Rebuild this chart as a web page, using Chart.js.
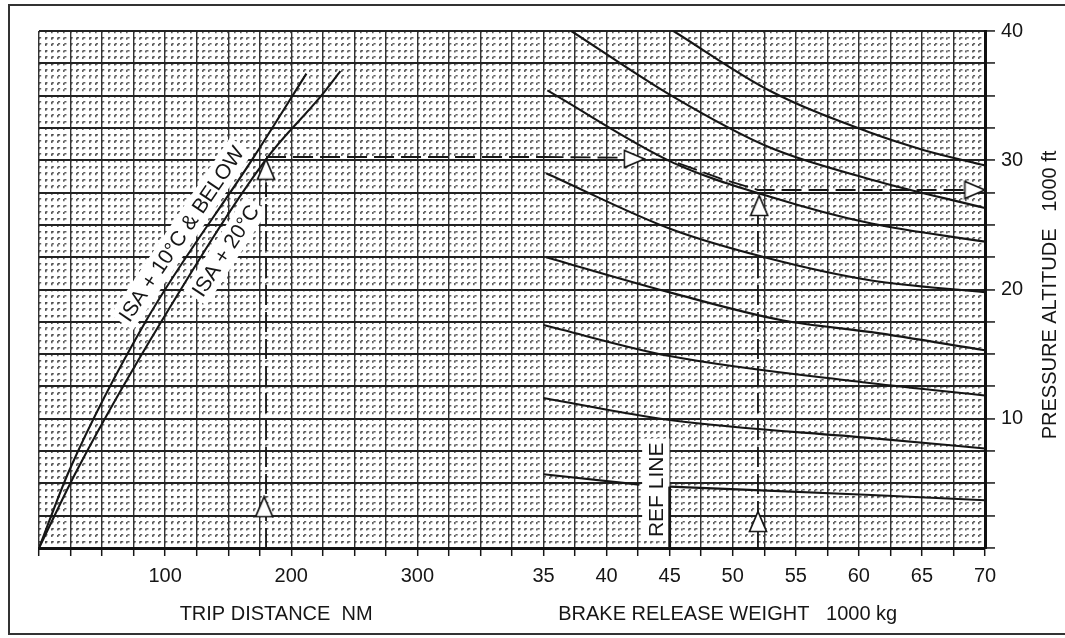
<!DOCTYPE html>
<html>
<head>
<meta charset="utf-8">
<title>Climb chart</title>
<script src="https://cdn.jsdelivr.net/npm/chart.js@4.4.1/dist/chart.umd.min.js"></script>
<style>
  html, body { margin: 0; padding: 0; background: #fff; }
</style>
</head>
<body>
<canvas id="chart" width="1065" height="638"></canvas>
<script>
// one shared grid: trip distance 0..750 NM, weight -5..70 t (35 t sits on 400 NM)
const DIST_MAX = 750;
const W_MIN = -5;
const W_MAX = 70;
const ALT_MAX = 40;

const distTicks = [100, 200, 300];
const weightTicks = [35, 40, 45, 50, 55, 60, 65, 70];
const altTicks = [10, 20, 30, 40];

// trip distance (NM) vs pressure altitude (1000 ft)
const isa10Dist = [0, 24, 85, 170, 212];
const isa10Alt = [0, 6, 17.6, 30.2, 36.7];
const isa20Dist = [0, 30, 97.5, 181, 223, 239];
const isa20Alt = [0, 6, 17.6, 30.2, 34.9, 36.9];

// brake release weight (1000 kg) vs pressure altitude, top curve first
const curveAW = [45.3, 52.9, 61, 65.1, 70];
const curveAAlt = [40, 35.4, 32.1, 30.8, 29.6];
const curveBW = [37.2, 45.3, 52.9, 61, 70];
const curveBAlt = [40, 34.9, 31.0, 28.5, 26.3];
const curveCW = [35.3, 45.3, 52.9, 61, 70];
const curveCAlt = [35.4, 29.8, 27.2, 25.1, 23.7];
const curveDW = [35.2, 45.3, 52.9, 61, 70];
const curveDAlt = [29.0, 24.6, 22.4, 20.7, 19.8];
const curveEW = [35.2, 45.3, 54, 61, 70];
const curveEAlt = [22.5, 19.7, 17.6, 16.7, 15.3];
const curveFW = [35, 45, 61, 70];
const curveFAlt = [17.25, 14.85, 12.75, 11.8];
const curveGW = [35, 45, 61, 70];
const curveGAlt = [11.6, 9.9, 8.5, 7.7];
const curveHLeftW = [35, 42.6];
const curveHLeftAlt = [5.7, 4.9];
const curveHRightW = [45, 61, 70];
const curveHRightAlt = [4.75, 4.1, 3.7];
const refLineW = [45, 45];
const refLineAlt = [0, 4.75];

// worked example (dashed path and arrow heads)
const exDistPathX = [180, 180];
const exDistPathAlt = [0, 28.3];
const exCrossDist = [180, 400];
const exCrossAlt = [30.25, 30.25];
const exCrossW = [35, 41, 43, 45, 49, 52, 68.5];
const exCrossWAlt = [30.25, 30.2, 30.1, 30.0, 28.6, 27.7, 27.7];
const exWeightPathW = [52, 52];
const exWeightPathAlt = [0, 25.8];
const upArrowDist = [178.5, 180];
const upArrowDistAlt = [3.2, 29.3];
const upArrowW = [52, 52.1];
const upArrowWAlt = [2.05, 26.5];
const rightArrowW = [42.2, 69.2];
const rightArrowWAlt = [30.1, 27.7];

const FONT = "'Liberation Sans', Arial, Helvetica, sans-serif";
const INK = '#161616';

// tall open arrow head, apex up
const arrowHead = document.createElement('canvas');
arrowHead.width = 20;
arrowHead.height = 23;
(() => {
  const c = arrowHead.getContext('2d');
  c.fillStyle = '#fff';
  c.strokeStyle = INK;
  c.lineWidth = 1.7;
  c.beginPath();
  c.moveTo(10, 1.5);
  c.lineTo(18.5, 21.5);
  c.lineTo(1.5, 21.5);
  c.closePath();
  c.fill();
  c.stroke();
})();

const pts = (xs, ys) => xs.map((x, i) => ({ x, y: ys[i] }));

function curve(xs, ys, xAxisID) {
  return {
    data: pts(xs, ys), xAxisID, yAxisID: 'y', showLine: true,
    borderColor: INK, borderWidth: 2.1, pointRadius: 0,
    cubicInterpolationMode: 'monotone', order: 3
  };
}
function dashed(xs, ys, xAxisID) {
  return {
    data: pts(xs, ys), xAxisID, yAxisID: 'y', showLine: true,
    borderColor: INK, borderWidth: 1.8, borderDash: [20, 7], pointRadius: 0,
    tension: 0, order: 2
  };
}
function arrows(xs, ys, xAxisID, rotation) {
  return {
    data: pts(xs, ys), xAxisID, yAxisID: 'y', showLine: false,
    pointStyle: arrowHead, pointRadius: 10, rotation, order: 0
  };
}

const curveLabels = [
  { text: 'ISA + 10°C & BELOW', axis: 'x', x: 113, y: 24.3, angle: -56, size: 21 },
  { text: 'ISA + 20°C', axis: 'x', x: 148, y: 23.0, angle: -57, size: 21 },
  { text: 'REF LINE', axis: 'xw', x: 43.9, y: 4.5, angle: -90, size: 21 }
];

const chartText = {
  id: 'chartText',
  beforeDraw(chart) {
    const c = chart.ctx;
    c.save();
    c.fillStyle = '#fff';
    c.fillRect(0, 0, chart.width, chart.height);
    c.strokeStyle = '#333';
    c.lineWidth = 2;
    c.beginPath();
    c.moveTo(1065, 5);
    c.lineTo(9, 5);
    c.lineTo(9, 634);
    c.lineTo(1065, 634);
    c.stroke();
    c.restore();
  },
  beforeDatasetsDraw(chart) {
    const c = chart.ctx;
    const y = chart.scales.y;
    curveLabels.forEach(l => {
      const px = chart.scales[l.axis].getPixelForValue(l.x);
      const py = y.getPixelForValue(l.y);
      c.save();
      c.translate(px, py);
      c.rotate(l.angle * Math.PI / 180);
      c.font = l.size + 'px ' + FONT;
      const w = c.measureText(l.text).width;
      c.fillStyle = '#fff';
      c.fillRect(-w / 2 - 4, -l.size * 0.65, w + 8, l.size * 1.3);
      c.fillStyle = INK;
      c.textAlign = 'center';
      c.textBaseline = 'middle';
      c.fillText(l.text, 0, 1);
      c.restore();
    });
  },
  afterDraw(chart) {
    const c = chart.ctx;
    c.save();
    c.fillStyle = INK;
    c.font = '20px ' + FONT;
    c.textAlign = 'center';
    c.textBaseline = 'middle';
    c.fillText('TRIP DISTANCE  NM', chart.scales.x.getPixelForValue(188), 614);
    c.fillText('BRAKE RELEASE WEIGHT   1000 kg', chart.scales.xw.getPixelForValue(49.6), 614);
    c.translate(1050, 295);
    c.rotate(-Math.PI / 2);
    c.fillText('PRESSURE ALTITUDE   1000 ft', 0, 0);
    c.restore();
  }
};

new Chart(document.getElementById('chart'), {
  type: 'scatter',
  data: {
    datasets: [
      arrows(upArrowDist, upArrowDistAlt, 'x', 0),
      arrows(upArrowW, upArrowWAlt, 'xw', 0),
      arrows(rightArrowW, rightArrowWAlt, 'xw', 90),
      dashed(exDistPathX, exDistPathAlt, 'x'),
      dashed(exCrossDist, exCrossAlt, 'x'),
      dashed(exCrossW, exCrossWAlt, 'xw'),
      dashed(exWeightPathW, exWeightPathAlt, 'xw'),
      curve(isa10Dist, isa10Alt, 'x'),
      curve(isa20Dist, isa20Alt, 'x'),
      curve(curveAW, curveAAlt, 'xw'),
      curve(curveBW, curveBAlt, 'xw'),
      curve(curveCW, curveCAlt, 'xw'),
      curve(curveDW, curveDAlt, 'xw'),
      curve(curveEW, curveEAlt, 'xw'),
      curve(curveFW, curveFAlt, 'xw'),
      curve(curveGW, curveGAlt, 'xw'),
      curve(curveHLeftW, curveHLeftAlt, 'xw'),
      curve(curveHRightW, curveHRightAlt, 'xw'),
      Object.assign(curve(refLineW, refLineAlt, 'xw'), { borderWidth: 2.8 })
    ]
  },
  options: {
    responsive: false,
    animation: false,
    events: [],
    layout: { padding: { left: 39, top: 31, right: 0, bottom: 0 } },
    plugins: { legend: { display: false }, tooltip: { enabled: false } },
    scales: {
      xm: {
        type: 'linear', position: 'bottom', min: 0, max: DIST_MAX, z: -2,
        ticks: { display: false, stepSize: 5, font: { size: 2 } },
        grid: { color: 'rgba(0,0,0,0.62)', lineWidth: 1.6, drawTicks: false },
        border: { display: false, dash: [2.2, 4.26] },
        afterFit(s) { s.height = 0; }
      },
      ym: {
        type: 'linear', position: 'right', min: 0, max: ALT_MAX, z: -2,
        ticks: { display: false, stepSize: 0.5, font: { size: 2 } },
        grid: { color: 'rgba(0,0,0,0.62)', lineWidth: 1.6, drawTicks: false },
        border: { display: false, dash: [2.2, 4.11] },
        afterFit(s) { s.width = 0; }
      },
      x: {
        type: 'linear', position: 'bottom', min: 0, max: DIST_MAX, z: -1,
        ticks: {
          stepSize: 25, autoSkip: false, minRotation: 0, maxRotation: 0, padding: 8,
          color: INK, font: { family: FONT, size: 20 },
          callback(v) {
            if (distTicks.includes(v)) return String(v);
            const w = W_MIN + (v / DIST_MAX) * (W_MAX - W_MIN);
            const hit = weightTicks.find(t => Math.abs(t - w) < 1e-6);
            return hit === undefined ? '' : String(hit);
          }
        },
        grid: { color: '#333', lineWidth: 1.4, tickLength: 8, tickColor: INK, tickWidth: 1.5 },
        border: { color: '#111', width: 3 },
        afterFit(s) { s.height = 90; }
      },
      xw: { type: 'linear', min: W_MIN, max: W_MAX, display: false },
      y: {
        type: 'linear', position: 'right', min: 0, max: ALT_MAX, z: -1,
        ticks: {
          stepSize: 2.5, autoSkip: false, padding: 6,
          color: INK, font: { family: FONT, size: 20 },
          callback(v) { return altTicks.includes(v) ? String(v) : ''; }
        },
        grid: { color: '#222', lineWidth: 1.9, tickLength: 10, tickColor: INK, tickWidth: 1.5 },
        border: { color: '#111', width: 3 },
        afterFit(s) { s.width = 80; }
      }
    }
  },
  plugins: [chartText]
});
</script>
</body>
</html>
